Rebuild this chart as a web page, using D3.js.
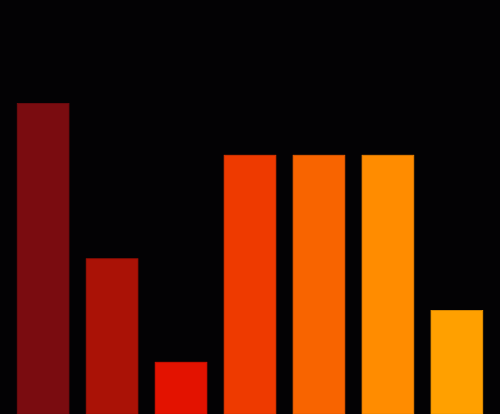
<!DOCTYPE html>
<html><head><meta charset="utf-8">
<script src="https://cdn.jsdelivr.net/npm/d3@7"></script>
<style>html,body{margin:0;padding:0;background:#030204;overflow:hidden}</style>
</head><body>
<svg id="chart" width="500" height="414"></svg>
<script>
const categories = ["A","B","C","D","E","F","G"];
const values = [6, 3, 1, 5, 5, 5, 2];
const colors = ["#7a0c10","#aa1206","#e31200","#ee3a00","#f86400","#ff8c00","#ffa000"];

const W = 500, H = 414;
const svg = d3.select("#chart");
svg.append("rect").attr("width", W).attr("height", H).attr("fill", "#030204");
const x = d3.scaleBand().domain(categories).range([0, W]).padding(0.25);
const y = d3.scaleLinear().domain([0, 8]).range([H, 0]);

svg.selectAll("rect.bar").data(categories).join("rect")
  .attr("class", "bar")
  .attr("x", d => x(d))
  .attr("width", x.bandwidth())
  .attr("y", (d, i) => y(values[i]))
  .attr("height", (d, i) => H - y(values[i]))
  .attr("fill", (d, i) => colors[i])
  .attr("stroke", (d, i) => d3.color(colors[i]).darker(0.25))
  .attr("stroke-width", 0.8);
</script>
</body></html>
